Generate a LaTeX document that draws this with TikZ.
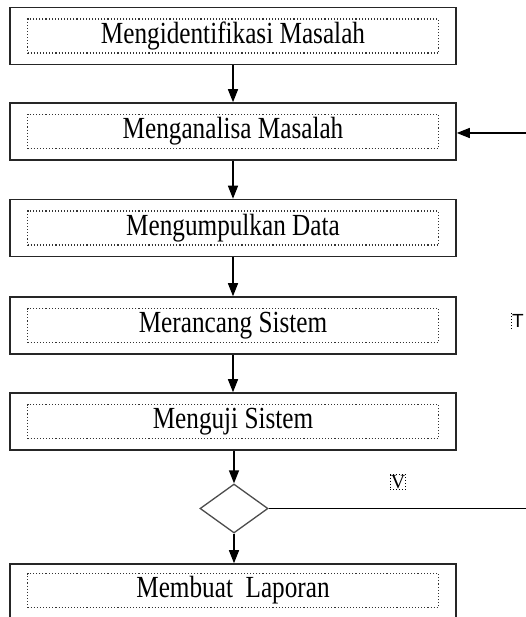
\documentclass[tikz,border=0pt]{standalone}
\usepackage{fontspec}
\setmainfont{Liberation Serif}
\newfontfamily\labelfont{Liberation Sans}
\usetikzlibrary{shapes.geometric,arrows.meta}

\newcommand{\tinggi}[1]{\scalebox{0.97}[1.18]{#1}}

\begin{document}
\begin{tikzpicture}[x=1pt,y=-1pt,
  stepbox/.style={draw=black!85, line width=1.6pt, minimum width=446pt, minimum height=57pt, inner sep=0pt},
  steptext/.style={draw=black!80, dotted, line width=1.1pt, minimum width=411pt, minimum height=34pt, inner sep=0pt, font=\fontsize{26}{26}\selectfont},
  decision/.style={draw=black!70, line width=1.3pt, diamond, minimum width=68pt, minimum height=49pt, inner sep=0pt},
  arus/.style={-{Triangle[width=10pt,length=13pt]}, line width=1.3pt}]
\useasboundingbox (0,0) rectangle (526,617);
\clip (0,0) rectangle (526,617);

% langkah-langkah
\node [stepbox] (identifikasi) at (233,36) {};
\node [steptext] (identifikasi-isi) at (identifikasi) {\tinggi{Mengidentifikasi Masalah}};
\node [stepbox] (analisa) at (233,131.5) {};
\node [steptext] (analisa-isi) at (analisa) {\tinggi{Menganalisa Masalah}};
\node [stepbox] (kumpul) at (233,228) {};
\node [steptext] (kumpul-isi) at (kumpul) {\tinggi{Mengumpulkan Data}};
\node [stepbox] (rancang) at (233,325.5) {};
\node [steptext] (rancang-isi) at (rancang) {\tinggi{Merancang Sistem}};
\node [stepbox] (uji) at (233,421.5) {};
\node [steptext] (uji-isi) at (uji) {\tinggi{Menguji Sistem}};
\node [decision] (keputusan) at (234,508.5) {};
\node [stepbox] (laporan) at (233,592.5) {};
\node [steptext] (laporan-isi) at (233,590.5) {\tinggi{Membuat~~Laporan}};

% label
\node [font=\labelfont\fontsize{19}{19}\selectfont, inner sep=1pt] (tlabel) at (518,321) {T};
\draw [dotted, line width=1pt] (tlabel.north west) -- (tlabel.south west);
\node [draw, dotted, line width=1pt, font=\fontsize{20}{20}\selectfont, inner sep=0.5pt] (vlabel) at (398,482) {V};

% alur
\coordinate (masuk) at (526,133);
\coordinate (keluar) at (526,508.5);
\draw [arus] (identifikasi) -- (analisa);
\draw [arus] (analisa) -- (kumpul);
\draw [arus] (kumpul) -- (rancang);
\draw [arus] (rancang) -- (uji);
\draw [arus] (uji.south -| keputusan.north) -- (keputusan.north);
\draw [arus] (keputusan.south) -- (keputusan.south |- laporan.north);
\draw [arus] (masuk) -- (masuk -| analisa.east);
\draw [line width=1.3pt] (keputusan.east) -- (keluar);
\end{tikzpicture}
\end{document}
